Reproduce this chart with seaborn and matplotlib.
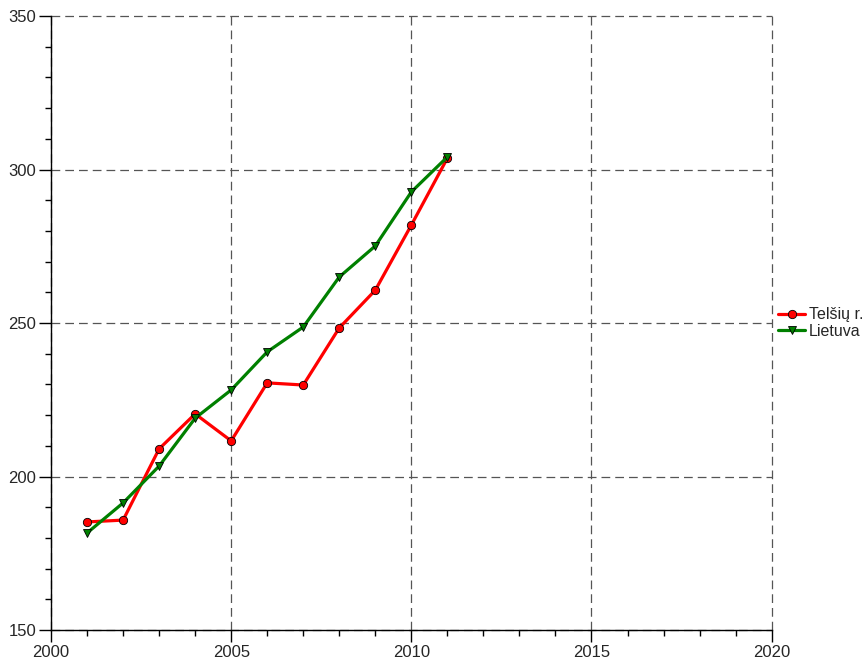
import pandas as pd
import numpy as np
import matplotlib
matplotlib.use("Agg")
import matplotlib.pyplot as plt
import seaborn as sns
from matplotlib.ticker import MultipleLocator

# data
years = [2001, 2002, 2003, 2004, 2005, 2006, 2007, 2008, 2009, 2010, 2011]
telsiai = [185.2, 185.8, 209.0, 220.4, 211.6, 230.5, 229.8, 248.4, 260.7, 281.9, 303.7]
lietuva = [181.6, 191.4, 203.4, 219.0, 228.2, 240.6, 248.7, 265.0, 275.1, 292.7, 304.1]
series_names = ["Telšių r.", "Lietuva"]

df = pd.DataFrame({
    "year": years * 2,
    "value": telsiai + lietuva,
    "series": [series_names[0]] * len(years) + [series_names[1]] * len(years),
})

sns.set_style("ticks")
plt.rcParams['font.family'] = ['Liberation Sans', 'DejaVu Sans']

fig = plt.figure(figsize=(8.68, 6.64), dpi=100)
ax = fig.add_axes([0.0588, 0.0512, 0.8302, 0.9247])

sns.lineplot(data=df, x="year", y="value", hue="series", style="series",
             palette={series_names[0]: "#ff0000", series_names[1]: "#008000"},
             markers={series_names[0]: "o", series_names[1]: "v"},
             dashes=False, linewidth=2.3, markersize=6,
             markeredgecolor="black", markeredgewidth=0.6, ax=ax)

ax.set_xlim(2000, 2020)
ax.set_ylim(150, 350)
ax.xaxis.set_major_locator(MultipleLocator(5))
ax.xaxis.set_minor_locator(MultipleLocator(1))
ax.yaxis.set_major_locator(MultipleLocator(50))
ax.yaxis.set_minor_locator(MultipleLocator(10))
ax.grid(True, which="major", linestyle=(0, (7, 4)), color="#555555", linewidth=0.9)
for gl in ax.get_xgridlines() + ax.get_ygridlines():
    gl.set_clip_on(False)
ax.tick_params(which="major", length=8.5, width=1, labelsize=12, color="black", pad=2)
ax.tick_params(which="minor", length=4, width=1, color="black")
for s in ["top", "right"]:
    ax.spines[s].set_visible(False)
for s in ["left", "bottom"]:
    ax.spines[s].set_color("black")
    ax.spines[s].set_linewidth(1)
ax.set_xlabel("")
ax.set_ylabel("")

ax.legend(loc="center left", bbox_to_anchor=(1.0, 0.5), frameon=False,
          fontsize=11.5, handlelength=1.7, borderpad=0.1, labelspacing=0.1,
          handletextpad=0.25, borderaxespad=0.3)

fig.savefig("out.png", dpi=100)
